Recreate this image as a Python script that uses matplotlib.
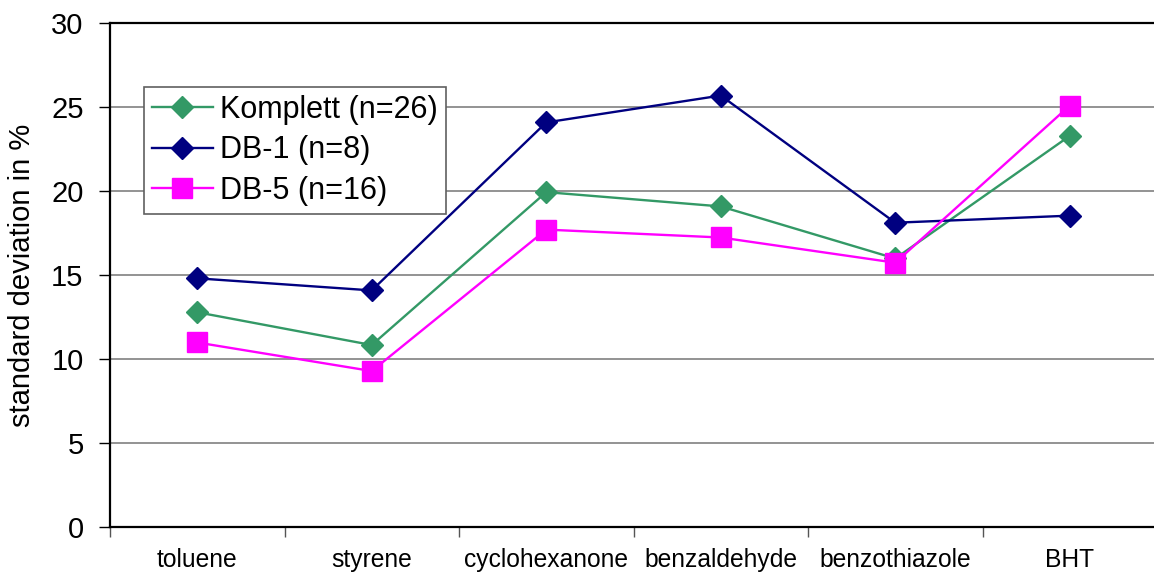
import matplotlib
matplotlib.use("Agg")
import matplotlib.pyplot as plt
import numpy as np

plt.rcParams['font.family'] = ['Liberation Sans', 'DejaVu Sans']

categories = ["toluene", "styrene", "cyclohexanone", "benzaldehyde", "benzothiazole", "BHT"]
komplett = [12.8, 10.85, 19.95, 19.1, 16.0, 23.3]
db1 = [14.82, 14.1, 24.1, 25.7, 18.13, 18.55]
db5 = [11.0, 9.3, 17.72, 17.25, 15.75, 25.1]
yticks = [0, 5, 10, 15, 20, 25, 30]

W, H = 1154, 572
fig = plt.figure(figsize=(W / 100, H / 100), dpi=100)
l, r, t, b = 110, 1157, 23.3, 527.3
ax = fig.add_axes([l / W, 1 - b / H, (r - l) / W, (b - t) / H])

x = np.arange(len(categories))
ax.plot(x, komplett, color="#339966", lw=1.7, marker="D", ms=11, label="Komplett (n=26)", zorder=3)
ax.plot(x, db1, color="#000080", lw=1.7, marker="D", ms=11, label="DB-1 (n=8)", zorder=4)
ax.plot(x, db5, color="#FF00FF", lw=1.7, marker="s", ms=15, label="DB-5 (n=16)", zorder=5)

ax.set_xlim(-0.5, len(categories) - 0.5)
ax.set_ylim(0, 30)
ax.set_yticks(yticks)
ax.tick_params(axis="y", labelsize=21, length=8, width=1, pad=11, direction="out")
ax.set_xticks(np.arange(-0.5, len(categories), 1.0))
ax.set_xticklabels([])
ax.set_xticks(x, minor=True)
ax.set_xticklabels(categories, minor=True)
ax.tick_params(axis="x", which="major", length=7, width=1, color="#555555")
ax.tick_params(axis="x", which="minor", length=0, labelsize=17.7, pad=15)

ax.yaxis.grid(True, color="#808080", lw=1.2)
ax.set_axisbelow(True)
for s in ["left", "bottom", "top"]:
    ax.spines[s].set_linewidth(1.6)
ax.spines["right"].set_visible(False)

ax.set_ylabel("standard deviation in %", fontsize=21)
ax.yaxis.set_label_coords(-(l - 36) / (r - l), 0.5)

leg = ax.legend(loc="upper left", bbox_to_anchor=(144 / W, 1 - 87 / H), bbox_transform=fig.transFigure,
                fontsize=22, frameon=True, fancybox=False, edgecolor="#606060", framealpha=1,
                handlelength=2.0, numpoints=1, borderpad=0.25, labelspacing=0.35, handletextpad=0.25,
                borderaxespad=0)
leg.get_frame().set_linewidth(1.2)

fig.savefig("out.png", dpi=100)
